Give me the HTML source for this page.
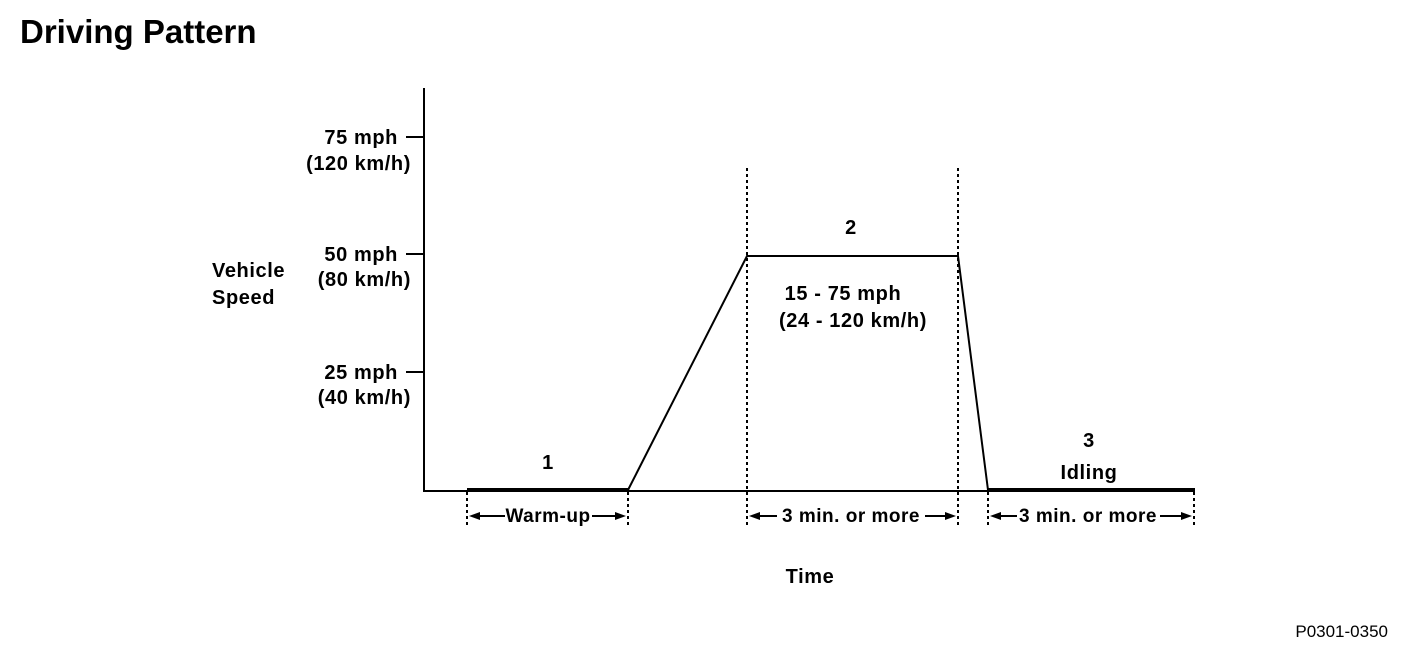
<!DOCTYPE html>
<html><head><style>
body{margin:0;background:#fff;}
svg text{font-family:"Liberation Sans",Arial,sans-serif;font-weight:bold;fill:#000;}
</style></head><body>
<svg width="1408" height="652" xmlns="http://www.w3.org/2000/svg">
<text x="20" y="43" font-size="33">Driving Pattern</text>
<line x1="424" y1="88" x2="424" y2="492" stroke="#000" stroke-width="2"/>
<line x1="423" y1="491" x2="1195" y2="491" stroke="#000" stroke-width="2"/>
<line x1="406" y1="137" x2="424" y2="137" stroke="#000" stroke-width="2"/>
<line x1="406" y1="254" x2="424" y2="254" stroke="#000" stroke-width="2"/>
<line x1="406" y1="372" x2="424" y2="372" stroke="#000" stroke-width="2"/>
<g font-size="20" text-anchor="end" letter-spacing="0.6">
<text x="398" y="144">75 mph</text><text x="411" y="170">(120 km/h)</text>
<text x="398" y="261">50 mph</text><text x="411" y="286">(80 km/h)</text>
<text x="398" y="379">25 mph</text><text x="411" y="404">(40 km/h)</text>
</g>
<g font-size="20" letter-spacing="0.6">
<text x="212" y="277">Vehicle</text>
<text x="212" y="304">Speed</text>
</g>
<line x1="467" y1="490" x2="628" y2="490" stroke="#000" stroke-width="4"/>
<line x1="988" y1="490" x2="1195" y2="490" stroke="#000" stroke-width="4"/>
<polyline points="628,490 747,256 958,256 988,490" fill="none" stroke="#000" stroke-width="2"/>
<g stroke="#000" stroke-width="2" stroke-dasharray="3,3">
<line x1="467" y1="492" x2="467" y2="528"/>
<line x1="628" y1="492" x2="628" y2="528"/>
<line x1="747" y1="168" x2="747" y2="528"/>
<line x1="958" y1="168" x2="958" y2="528"/>
<line x1="988" y1="492" x2="988" y2="528"/>
<line x1="1194" y1="492" x2="1194" y2="528"/>
</g>
<g stroke="#000" stroke-width="2">
<line x1="476" y1="516" x2="505" y2="516"/><line x1="592" y1="516" x2="620" y2="516"/>
<line x1="756" y1="516" x2="777" y2="516"/><line x1="925" y1="516" x2="950" y2="516"/>
<line x1="996" y1="516" x2="1017" y2="516"/><line x1="1160" y1="516" x2="1186" y2="516"/>
</g>
<g fill="#000">
<polygon points="469,516 480,512 480,520"/><polygon points="626,516 615,512 615,520"/>
<polygon points="749,516 760,512 760,520"/><polygon points="956,516 945,512 945,520"/>
<polygon points="990,516 1001,512 1001,520"/><polygon points="1192,516 1181,512 1181,520"/>
</g>
<g font-size="19" text-anchor="middle" letter-spacing="0.5">
<text x="548" y="522">Warm-up</text>
<text x="851" y="522">3 min. or  more</text>
<text x="1088" y="522">3 min. or  more</text>
</g>
<g font-size="20" text-anchor="middle" letter-spacing="0.6">
<text x="548" y="469">1</text>
<text x="851" y="234">2</text>
<text x="1089" y="447">3</text>
<text x="1089" y="479">Idling</text>
<text x="843" y="300">15 - 75 mph</text>
<text x="853" y="327">(24 - 120 km/h)</text>
<text x="810" y="583">Time</text>
</g>
<text x="1388" y="637" font-size="17" text-anchor="end" style="font-weight:normal">P0301-0350</text>
</svg>
</body></html>
